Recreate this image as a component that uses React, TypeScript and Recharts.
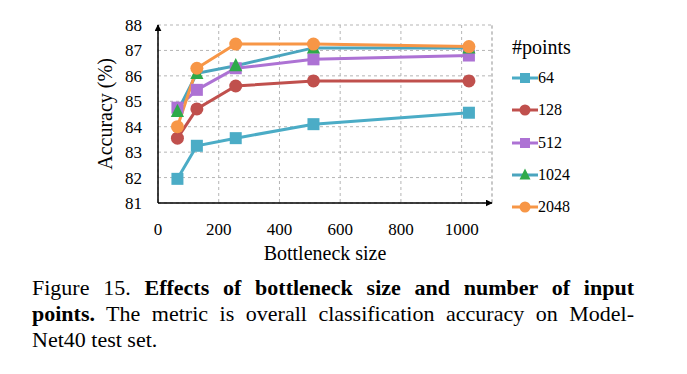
import React from "react";
import {
  LineChart,
  Line,
  XAxis,
  YAxis,
  CartesianGrid,
  Label,
  ReferenceLine,
} from "recharts";

// bottleneck sizes on the x axis
const bottleneck = [64, 128, 256, 512, 1024];

// accuracy (%) per number of input points
const acc64 = [81.95, 83.25, 83.55, 84.1, 84.55];
const acc128 = [83.55, 84.7, 85.6, 85.8, 85.8];
const acc512 = [84.75, 85.45, 86.3, 86.65, 86.8];
const acc1024 = [84.6, 86.1, 86.4, 87.1, 87.1];
const acc2048 = [84.0, 86.3, 87.25, 87.25, 87.15];

const xTicks = [0, 200, 400, 600, 800, 1000];
const yTicks = [81, 82, 83, 84, 85, 86, 87, 88];

const data = bottleneck.map((b, i) => ({
  b,
  p64: acc64[i],
  p128: acc128[i],
  p512: acc512[i],
  p1024: acc1024[i],
  p2048: acc2048[i],
}));

const font = '"Liberation Serif", "Times New Roman", serif';
const svgFont = "Liberation Serif, serif";

type Shape = "square" | "circle" | "triangle";

const series: { key: string; name: string; line: string; fill: string; shape: Shape }[] = [
  { key: "p64", name: "64", line: "#4BACC6", fill: "#4BACC6", shape: "square" },
  { key: "p128", name: "128", line: "#C0504D", fill: "#C0504D", shape: "circle" },
  { key: "p512", name: "512", line: "#AD72D4", fill: "#AD72D4", shape: "square" },
  { key: "p1024", name: "1024", line: "#4BA5BE", fill: "#2EAA4A", shape: "triangle" },
  { key: "p2048", name: "2048", line: "#F79646", fill: "#F79646", shape: "circle" },
];

const marker = (shape: Shape, fill: string, cx: number, cy: number, s: number, key?: string) => {
  if (shape === "square")
    return <rect key={key} x={cx - s} y={cy - s} width={2 * s} height={2 * s} fill={fill} />;
  if (shape === "circle") return <circle key={key} cx={cx} cy={cy} r={s + 0.5} fill={fill} />;
  const h = s * 1.1;
  return (
    <polygon
      key={key}
      points={`${cx},${cy - h - 1} ${cx - h},${cy + h - 1} ${cx + h},${cy + h - 1}`}
      fill={fill}
    />
  );
};

const makeDot = (shape: Shape, fill: string) => (props: any) =>
  marker(shape, fill, props.cx, props.cy, 6, `${props.dataKey}-${props.index}`);

const XTick = ({ x, y, payload }: any) => (
  <text x={x} y={y + 16} textAnchor="middle" fontFamily={svgFont} fontSize={17} fill="#000">
    {payload.value}
  </text>
);

const YTick = ({ x, y, payload }: any) => (
  <text x={x - 1} y={y + 6} textAnchor="end" fontFamily={svgFont} fontSize={17} fill="#000">
    {payload.value}
  </text>
);

const XTitle = ({ viewBox }: any) => (
  <text
    x={viewBox.x + viewBox.width / 2}
    y={viewBox.y + 57}
    textAnchor="middle"
    fontFamily={svgFont}
    fontSize={20}
    fill="#000"
  >
    Bottleneck size
  </text>
);

const YTitle = ({ viewBox }: any) => {
  const cx = 112;
  const cy = viewBox.y + viewBox.height / 2;
  return (
    <text
      x={cx}
      y={cy}
      transform={`rotate(-90 ${cx} ${cy})`}
      textAnchor="middle"
      fontFamily={svgFont}
      fontSize={20}
      fill="#000"
    >
      Accuracy (%)
    </text>
  );
};

const LegendBox = () => (
  <div style={{ position: "absolute", left: 512, top: 32, fontFamily: font, color: "#000" }}>
    <div style={{ fontSize: 20, height: 30, lineHeight: "30px" }}>#points</div>
    {series.map((s) => (
      <div key={s.key} style={{ display: "flex", alignItems: "center", height: 32.3 }}>
        <svg width={26} height={14}>
          <line x1={0} y1={7} x2={26} y2={7} stroke={s.line} strokeWidth={3} />
          {marker(s.shape, s.fill, 13, 7, 5)}
        </svg>
        <span style={{ fontSize: 16 }}>{s.name}</span>
      </div>
    ))}
  </div>
);

const App = () => {
  return (
    <div style={{ position: "fixed", left: 0, top: 0, width: 687, height: 374, background: "#fff" }}>
      <LineChart
        width={687}
        height={270}
        data={data}
        margin={{ top: 25, right: 195, left: 98, bottom: 7 }}
      >
        <defs>
          <marker
            id="arrow"
            viewBox="0 0 10 10"
            refX="9"
            refY="5"
            markerWidth="7"
            markerHeight="7"
            orient="auto-start-reverse"
            markerUnits="userSpaceOnUse"
          >
            <path d="M0,0 L10,5 L0,10 z" fill="#000" />
          </marker>
        </defs>
        <CartesianGrid stroke="#b5b5b5" strokeDasharray="3 3" />
        <ReferenceLine x={1100} stroke="#b5b5b5" strokeDasharray="3 3" />
        <XAxis
          dataKey="b"
          type="number"
          domain={[0, 1100]}
          ticks={xTicks}
          tickLine={false}
          tickMargin={10}
          height={60}
          axisLine={{ stroke: "#000", strokeWidth: 1.5, markerEnd: "url(#arrow)" } as any}
          tick={<XTick />}
        >
          <Label content={<XTitle />} />
        </XAxis>
        <YAxis
          type="number"
          domain={[81, 88]}
          ticks={yTicks}
          tickLine={false}
          tickMargin={9}
          width={60}
          axisLine={{ stroke: "#000", strokeWidth: 1.5, markerStart: "url(#arrow)" } as any}
          tick={<YTick />}
        >
          <Label content={<YTitle />} />
        </YAxis>
        {series.map((s) => (
          <Line
            key={s.key}
            dataKey={s.key}
            name={s.name}
            type="linear"
            stroke={s.line}
            strokeWidth={3}
            dot={makeDot(s.shape, s.fill)}
            activeDot={false}
            isAnimationActive={false}
          />
        ))}
      </LineChart>
      <LegendBox />
      <div
        style={{
          position: "absolute",
          left: 32,
          top: 275,
          width: 602,
          fontFamily: font,
          fontSize: 22,
          lineHeight: "26px",
          color: "#000",
        }}
      >
        <div style={{ textAlign: "justify", textAlignLast: "justify" }}>
          Figure 15. <b>Effects of bottleneck size and number of input</b>
        </div>
        <div style={{ textAlign: "justify", textAlignLast: "justify" }}>
          <b>points.</b> The metric is overall classification accuracy on Model-
        </div>
        <div>Net40 test set.</div>
      </div>
    </div>
  );
};

export default App;
